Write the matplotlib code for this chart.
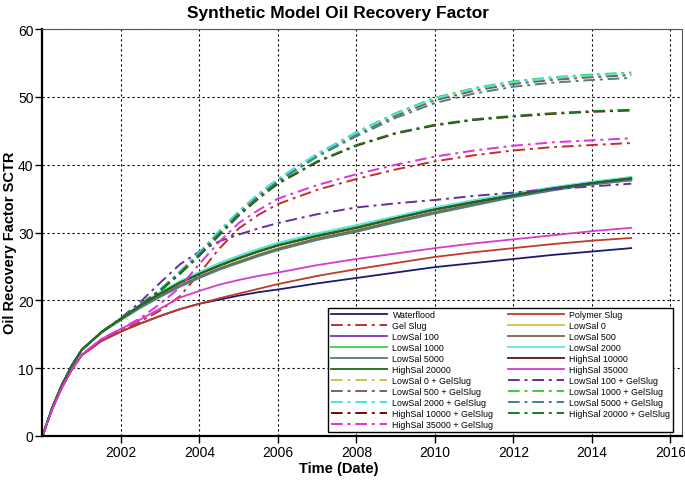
import numpy as np
import matplotlib
matplotlib.use('Agg')
import matplotlib.pyplot as plt

plt.rcParams['font.family'] = ['Liberation Sans', 'DejaVu Sans']

# time in decimal years
years = [2000.0, 2000.25, 2000.5, 2000.75, 2001.0, 2001.5, 2002.0, 2002.5, 2003.0, 2003.5,
         2004.0, 2004.5, 2005.0, 2005.5, 2006.0, 2007.0, 2008.0, 2009.0, 2010.0, 2011.0,
         2012.0, 2013.0, 2014.0, 2015.0]

waterflood = [0, 4.0, 7.2, 9.8, 11.9, 14.0, 15.4, 16.6, 17.7, 18.7, 19.5, 20.1, 20.7, 21.2,
              21.6, 22.5, 23.3, 24.1, 24.9, 25.5, 26.1, 26.7, 27.2, 27.7]
polymer_slug = [0, 4.0, 7.2, 9.8, 11.9, 14.0, 15.4, 16.6, 17.7, 18.7, 19.5, 20.3, 21.0, 21.7,
                22.4, 23.6, 24.6, 25.5, 26.4, 27.1, 27.7, 28.3, 28.8, 29.2]
gel_slug = [0, 4.0, 7.2, 9.8, 11.9, 14.0, 15.5, 16.9, 18.5, 20.6, 24.0, 27.6, 30.6, 32.6,
            34.2, 36.3, 37.9, 39.3, 40.5, 41.4, 42.1, 42.6, 42.9, 43.2]
lowsal_0 = [0, 4.2, 7.6, 10.4, 12.7, 15.3, 17.2, 19.1, 20.7, 22.2, 23.5, 24.7, 25.8, 26.8,
            27.7, 29.2, 30.4, 31.8, 33.1, 34.3, 35.4, 36.4, 37.2, 37.8]
lowsal_100 = [0, 4.2, 7.6, 10.4, 12.7, 15.3, 17.3, 19.3, 21.0, 22.6, 23.9, 25.1, 26.2, 27.2,
              28.1, 29.5, 30.7, 32.1, 33.4, 34.5, 35.5, 36.5, 37.3, 38.0]
lowsal_500 = [0, 4.2, 7.6, 10.4, 12.7, 15.3, 17.2, 19.1, 20.7, 22.2, 23.5, 24.7, 25.7, 26.7,
              27.6, 29.1, 30.3, 31.7, 33.0, 34.2, 35.3, 36.3, 37.1, 37.7]
lowsal_1000 = [0, 4.2, 7.6, 10.4, 12.7, 15.3, 17.4, 19.4, 21.2, 22.8, 24.1, 25.4, 26.5, 27.5,
               28.4, 29.8, 31.0, 32.3, 33.6, 34.7, 35.7, 36.6, 37.4, 38.1]
lowsal_2000 = [0, 4.2, 7.6, 10.4, 12.7, 15.3, 17.4, 19.4, 21.2, 22.8, 24.2, 25.5, 26.6, 27.6,
               28.5, 29.9, 31.1, 32.4, 33.7, 34.8, 35.8, 36.7, 37.5, 38.2]
lowsal_5000 = [0, 4.2, 7.6, 10.4, 12.7, 15.2, 17.1, 18.9, 20.5, 22.0, 23.3, 24.5, 25.5, 26.5,
               27.4, 28.9, 30.1, 31.5, 32.8, 34.0, 35.2, 36.2, 37.1, 37.7]
highsal_10000 = [0, 4.2, 7.6, 10.4, 12.7, 15.3, 17.3, 19.3, 21.0, 22.6, 23.9, 25.1, 26.2, 27.2,
                 28.1, 29.5, 30.7, 32.1, 33.4, 34.5, 35.5, 36.5, 37.3, 38.0]
highsal_20000 = [0, 4.2, 7.6, 10.4, 12.7, 15.3, 17.3, 19.3, 21.0, 22.6, 23.9, 25.1, 26.2, 27.2,
                 28.1, 29.5, 30.7, 32.1, 33.4, 34.5, 35.5, 36.5, 37.3, 38.0]
highsal_35000 = [0, 4.0, 7.2, 9.8, 12.0, 14.3, 15.8, 17.2, 18.8, 20.4, 21.4, 22.3, 23.0, 23.6,
                 24.1, 25.2, 26.1, 26.9, 27.7, 28.4, 29.0, 29.6, 30.2, 30.7]
lowsal_0_gel = [0, 4.2, 7.6, 10.4, 12.7, 15.3, 17.3, 19.4, 21.6, 24.2, 27.0, 30.1, 33.0, 35.6,
                37.8, 41.5, 44.6, 47.4, 49.7, 51.1, 52.1, 52.7, 53.1, 53.4]
lowsal_100_gel = [0, 4.2, 7.6, 10.4, 12.7, 15.3, 17.4, 19.8, 22.6, 25.3, 27.2, 28.7, 29.7, 30.6,
                  31.4, 32.7, 33.7, 34.3, 34.8, 35.4, 35.9, 36.4, 36.8, 37.2]
lowsal_500_gel = [0, 4.2, 7.6, 10.4, 12.7, 15.3, 17.3, 19.4, 21.6, 24.2, 27.0, 30.0, 32.9, 35.5,
                  37.7, 41.4, 44.5, 47.2, 49.5, 50.9, 51.9, 52.5, 52.9, 53.2]
lowsal_1000_gel = [0, 4.2, 7.6, 10.4, 12.7, 15.3, 17.3, 19.4, 21.6, 24.2, 27.1, 30.2, 33.1, 35.7,
                   37.9, 41.6, 44.8, 47.6, 49.9, 51.3, 52.3, 52.9, 53.3, 53.6]
lowsal_2000_gel = [0, 4.2, 7.6, 10.4, 12.7, 15.3, 17.3, 19.4, 21.6, 24.2, 27.1, 30.2, 33.1, 35.7,
                   37.9, 41.6, 44.7, 47.5, 49.8, 51.2, 52.2, 52.8, 53.2, 53.5]
lowsal_5000_gel = [0, 4.2, 7.6, 10.4, 12.7, 15.3, 17.3, 19.4, 21.5, 24.1, 26.9, 29.9, 32.8, 35.3,
                   37.5, 41.2, 44.2, 46.9, 49.1, 50.5, 51.5, 52.1, 52.5, 52.8]
highsal_10000_gel = [0, 4.2, 7.6, 10.4, 12.7, 15.3, 17.3, 19.3, 21.4, 23.9, 26.6, 29.6, 32.5, 35.0,
                     37.2, 40.4, 42.8, 44.6, 45.8, 46.6, 47.1, 47.5, 47.8, 48.0]
highsal_20000_gel = [0, 4.2, 7.6, 10.4, 12.7, 15.3, 17.3, 19.3, 21.4, 23.9, 26.6, 29.6, 32.5, 35.0,
                     37.3, 40.5, 42.9, 44.7, 45.9, 46.7, 47.2, 47.6, 47.9, 48.1]
highsal_35000_gel = [0, 4.0, 7.2, 9.8, 12.0, 14.3, 15.8, 17.4, 19.5, 21.9, 25.4, 28.6, 31.4, 33.3,
                     35.0, 37.0, 38.6, 40.0, 41.2, 42.1, 42.8, 43.3, 43.6, 43.9]

series = [
    ('Waterflood', waterflood, '#1c1c6e', '-'),
    ('Polymer Slug', polymer_slug, '#c0392b', '-'),
    ('Gel Slug', gel_slug, '#c0302a', 'dd'),
    ('LowSal 0', lowsal_0, '#d8bc4a', '-'),
    ('LowSal 100', lowsal_100, '#7b3fa0', '-'),
    ('LowSal 500', lowsal_500, '#7a6252', '-'),
    ('LowSal 1000', lowsal_1000, '#44c844', '-'),
    ('LowSal 2000', lowsal_2000, '#5ee6e6', '-'),
    ('LowSal 5000', lowsal_5000, '#4a8080', '-'),
    ('HighSal 10000', highsal_10000, '#5a1414', '-'),
    ('HighSal 20000', highsal_20000, '#1b6a1b', '-'),
    ('HighSal 35000', highsal_35000, '#d23cd2', '-'),
    ('LowSal 0 + GelSlug', lowsal_0_gel, '#d8bc4a', 'dd'),
    ('LowSal 100 + GelSlug', lowsal_100_gel, '#6a2aa0', 'dd'),
    ('LowSal 500 + GelSlug', lowsal_500_gel, '#7a6252', 'dd'),
    ('LowSal 1000 + GelSlug', lowsal_1000_gel, '#44c844', 'dd'),
    ('LowSal 2000 + GelSlug', lowsal_2000_gel, '#3ee8e8', 'dd'),
    ('LowSal 5000 + GelSlug', lowsal_5000_gel, '#4a8080', 'dd'),
    ('HighSal 10000 + GelSlug', highsal_10000_gel, '#6a0c0c', 'dd'),
    ('HighSal 20000 + GelSlug', highsal_20000_gel, '#1b7a1b', 'dd'),
    ('HighSal 35000 + GelSlug', highsal_35000_gel, '#e030e0', 'dd'),
]

fig = plt.figure(figsize=(6.85, 4.85), dpi=100)
ax = fig.add_axes([0.062, 0.099, 0.934, 0.839])

lines = []
for name, vals, col, ls in series:
    if ls == 'dd':
        l, = ax.plot(years, vals, color=col, lw=1.4, linestyle=(0, (6, 2.5, 1.5, 2.5)), label=name)
    else:
        l, = ax.plot(years, vals, color=col, lw=1.3, label=name)
    lines.append(l)

ax.set_xlim(2000, 2016.3)
ax.set_ylim(0, 60)
ax.set_xticks([2002, 2004, 2006, 2008, 2010, 2012, 2014, 2016])
ax.set_xticklabels(['2002', '2004', '2006', '2008', '2010', '2012', '2014', '2016'])
ax.set_yticks([0, 10, 20, 30, 40, 50, 60])
ax.tick_params(labelsize=10, direction='out', length=5, width=1, pad=1.5)
ax.grid(True, color='black', linestyle=(0, (2, 2.5)), linewidth=0.8)
ax.spines['left'].set_linewidth(1.6)
ax.spines['bottom'].set_linewidth(1.6)
ax.spines['top'].set_linewidth(0.8)
ax.spines['right'].set_linewidth(0.8)
ax.spines['top'].set_color('#555555')
ax.spines['right'].set_color('#555555')

# legend filled row by row, two columns
order = lines[0::2] + lines[1::2]
leg = ax.legend(order, [l.get_label() for l in order], loc='lower right',
                bbox_to_anchor=(0.992, 0.0), ncol=2, fontsize=6.4,
                handlelength=6.3, labelspacing=0.22, columnspacing=1.6, handletextpad=0.6,
                borderpad=0.3, fancybox=False, framealpha=1, edgecolor='black')
leg.get_frame().set_linewidth(1.0)

fig.text(0.493, 0.972, 'Synthetic Model Oil Recovery Factor', ha='center', va='center',
         fontsize=12.5, fontweight='bold')
fig.text(0.495, 0.032, 'Time (Date)', ha='center', va='center', fontsize=10.5, fontweight='bold')
fig.text(0.014, 0.50, 'Oil Recovery Factor SCTR', ha='center', va='center', rotation=90,
         fontsize=10.5, fontweight='bold')

plt.savefig('out.png', dpi=100)
